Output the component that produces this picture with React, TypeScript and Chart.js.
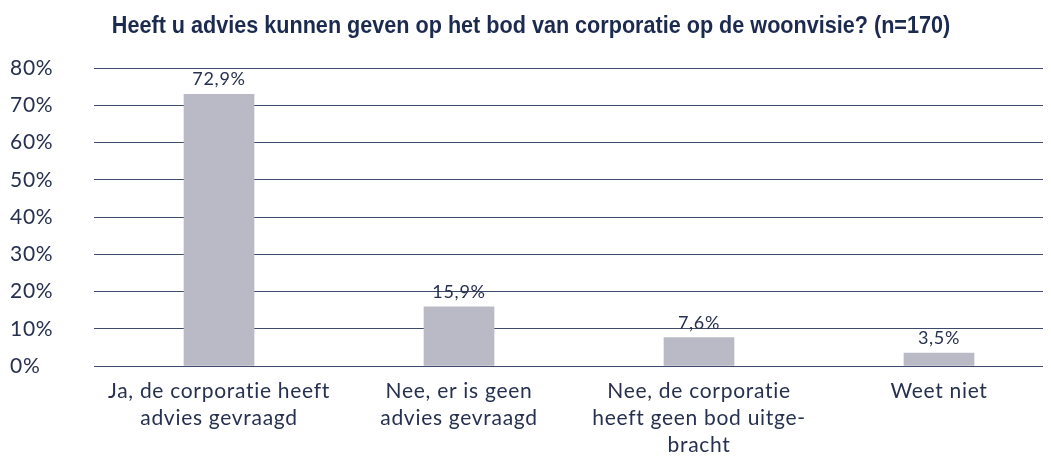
import React, { useEffect, useRef } from "react";
import { Chart, registerables } from "chart.js";

Chart.register(...registerables);

const titleText = "Heeft u advies kunnen geven op het bod van corporatie op de woonvisie? (n=170)";
const categories: string[][] = [
  ["Ja, de corporatie heeft", "advies gevraagd"],
  ["Nee, er is geen", "advies gevraagd"],
  ["Nee, de corporatie", "heeft geen bod uitge-", "bracht"],
  ["Weet niet"],
];
const values: number[] = [72.9, 15.9, 7.6, 3.5];
const valueLabels: string[] = ["72,9%", "15,9%", "7,6%", "3,5%"];
const yTicks: number[] = [0, 10, 20, 30, 40, 50, 60, 70, 80];

const TEXT = "#27314f";
const GRID = "#3e4a6a";

const spacingPlugin = {
  id: "letterSpacing",
  beforeDraw(chart: any) {
    chart.ctx.letterSpacing = "0.7px";
  },
  afterDraw(chart: any) {
    chart.ctx.letterSpacing = "0px";
  },
};

const labelPlugin = {
  id: "valueLabels",
  afterDatasetsDraw(chart: any) {
    const { ctx } = chart;
    const meta = chart.getDatasetMeta(0);
    ctx.save();
    ctx.font = "18px Lato";
    ctx.fillStyle = TEXT;
    ctx.textAlign = "center";
    ctx.textBaseline = "alphabetic";
    meta.data.forEach((bar: any, i: number) => {
      ctx.fillText(valueLabels[i], bar.x, bar.y - 9);
    });
    ctx.restore();
  },
};

const titlePlugin = {
  id: "condensedTitle",
  afterDraw(chart: any) {
    const { ctx } = chart;
    ctx.save();
    ctx.letterSpacing = "0px";
    ctx.font = "bold 24px 'Liberation Sans', Arial, sans-serif";
    ctx.fillStyle = "#1b2a4e";
    ctx.textAlign = "center";
    ctx.textBaseline = "alphabetic";
    ctx.translate(531, 33);
    ctx.scale(0.9, 1);
    ctx.fillText(titleText, 0, 0);
    ctx.restore();
  },
};

export default function App() {
  const ref = useRef<HTMLCanvasElement | null>(null);
  useEffect(() => {
    if (!ref.current) return;
    const chart = new Chart(ref.current, {
      type: "bar",
      data: {
        labels: categories,
        datasets: [
          {
            data: values,
            backgroundColor: "#b9bac6",
            barThickness: 70,
          },
        ],
      },
      options: {
        animation: false,
        responsive: false,
        maintainAspectRatio: false,
        layout: { padding: { left: 10, right: 1, top: 68, bottom: 0 } },
        plugins: {
          legend: { display: false },
          tooltip: { enabled: false },
          title: { display: false },
        },
        scales: {
          x: {
            grid: { display: false },
            border: { display: false },
            ticks: {
              color: TEXT,
              font: { family: "Lato", size: 21, lineHeight: 1.29 },
              maxRotation: 0,
              autoSkip: false,
              padding: 4,
            },
            afterFit: (axis: any) => {
              axis.height = 100;
            },
          },
          y: {
            min: 0,
            max: 80,
            afterBuildTicks: (axis: any) => {
              axis.ticks = yTicks.map((v) => ({ value: v }));
            },
            grid: {
              color: GRID,
              lineWidth: 1,
              drawTicks: true,
              tickLength: 5,
              tickColor: GRID,
            },
            border: { display: false },
            ticks: {
              color: TEXT,
              font: { family: "Lato", size: 21 },
              crossAlign: "far",
              callback: (v: any) => v + "%",
            },
            afterFit: (axis: any) => {
              axis.width = 89;
            },
          },
        },
      },
      plugins: [spacingPlugin, labelPlugin, titlePlugin],
    });
    return () => chart.destroy();
  }, []);

  return (
    <div style={{ position: "relative", overflow: "hidden", width: "1043px", height: "450px" }}>
      <canvas
        ref={ref}
        width={1060}
        height={466}
        style={{ position: "absolute", left: "-8px", top: "-8px", width: "1060px", height: "466px" }}
      />
    </div>
  );
}
